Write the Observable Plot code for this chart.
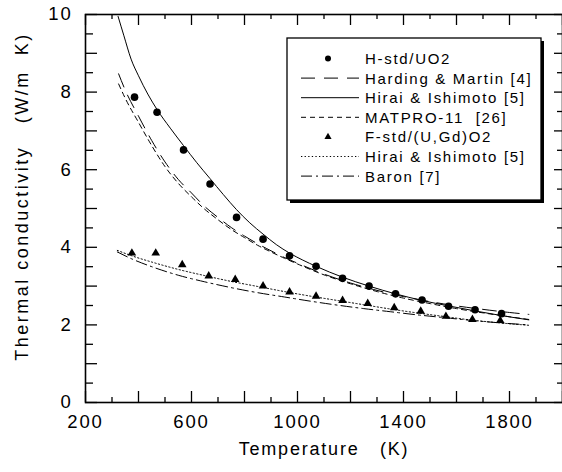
<!DOCTYPE html>
<html><head><meta charset="utf-8">
<script src="https://cdn.jsdelivr.net/npm/d3@7"></script>
<script src="https://cdn.jsdelivr.net/npm/@observablehq/plot@0.6"></script>
<style>
body{margin:0;background:#fff;}
#chart{width:562px;height:472px;}
#chart svg text{letter-spacing:1.8px;}
#chart svg .ytitle text{letter-spacing:2.5px;}
#chart svg .legend text{letter-spacing:1.7px;}
</style></head><body><div id="chart"></div>
<script>
// ---- data ----
const hStdT = [385, 470, 570, 670, 770, 870, 970, 1070, 1170, 1270, 1370, 1470, 1570, 1670, 1770];
const hStdK = [7.87, 7.48, 6.51, 5.63, 4.77, 4.21, 3.78, 3.51, 3.20, 3.00, 2.80, 2.64, 2.48, 2.39, 2.29];
const fStdT = [375, 465, 565, 665, 765, 870, 970, 1070, 1170, 1265, 1365, 1465, 1560, 1660, 1765];
const fStdK = [3.85, 3.85, 3.55, 3.26, 3.17, 3.00, 2.85, 2.74, 2.63, 2.55, 2.44, 2.35, 2.22, 2.14, 2.11];

const hiraiUO2T = [323, 345, 372, 400, 435, 470, 520, 570, 620, 670, 720, 770, 820, 870, 920, 970, 1020, 1070, 1170, 1270, 1370, 1470, 1570, 1670, 1770, 1873];
const hiraiUO2K = [9.95, 9.45, 8.85, 8.42, 7.95, 7.55, 7.07, 6.62, 6.18, 5.77, 5.36, 4.97, 4.63, 4.34, 4.07, 3.85, 3.67, 3.51, 3.23, 3.00, 2.80, 2.63, 2.49, 2.36, 2.24, 2.13];
const hardingT = [325, 350, 400, 450, 500, 550, 600, 650, 700, 750, 800, 850, 900, 950, 1000, 1100, 1200, 1300, 1400, 1500, 1600, 1700, 1800, 1873];
const hardingK = [8.47, 8.05, 7.38, 6.75, 6.20, 5.75, 5.40, 5.05, 4.77, 4.51, 4.29, 4.09, 3.91, 3.74, 3.59, 3.31, 3.08, 2.89, 2.73, 2.60, 2.49, 2.40, 2.32, 2.27];
const matproT = [325, 350, 400, 450, 500, 550, 600, 650, 700, 750, 800, 850, 900, 950, 1000, 1100, 1200, 1300, 1400, 1500, 1600, 1700, 1800, 1873];
const matproK = [8.21, 7.84, 7.22, 6.62, 6.08, 5.65, 5.30, 4.98, 4.71, 4.46, 4.25, 4.05, 3.88, 3.72, 3.57, 3.29, 3.06, 2.86, 2.69, 2.55, 2.42, 2.31, 2.21, 2.14];
const hiraiGdT = [320, 375, 450, 550, 650, 750, 850, 950, 1050, 1150, 1250, 1350, 1450, 1550, 1650, 1750, 1873];
const hiraiGdK = [3.92, 3.78, 3.62, 3.43, 3.27, 3.12, 2.99, 2.86, 2.74, 2.63, 2.52, 2.41, 2.31, 2.22, 2.13, 2.06, 1.99];
const baronT = [320, 375, 450, 550, 650, 750, 850, 950, 1050, 1150, 1250, 1350, 1450, 1550, 1650, 1750, 1873];
const baronK = [3.88, 3.70, 3.50, 3.28, 3.11, 2.96, 2.83, 2.72, 2.61, 2.51, 2.42, 2.34, 2.26, 2.19, 2.12, 2.06, 2.00];

const xTickLabels = [200, 600, 1000, 1400, 1800];
const xMajorTicks = [200, 400, 600, 800, 1000, 1200, 1400, 1600, 1800, 2000];
const xMinorTicks = [300, 500, 700, 900, 1100, 1300, 1500, 1700, 1900];
const yTickLabels = [0, 2, 4, 6, 8, 10];
const yMajorTicks = [0, 1, 2, 3, 4, 5, 6, 7, 8, 9, 10];
const yMinorTicks = [0.5, 1.5, 2.5, 3.5, 4.5, 5.5, 6.5, 7.5, 8.5, 9.5];

const xTitle = "Temperature\u00a0\u00a0\u00a0(K)";
const yTitle = "Thermal conductivity\u00a0\u00a0\u00a0(W/m\u00a0\u00a0K)";

const legendItems = [
  {label: "H-std/UO2", kind: "dot"},
  {label: "Harding & Martin [4]", kind: "line", dash: "14,9"},
  {label: "Hirai & Ishimoto [5]", kind: "line", dash: null},
  {label: "MATPRO-11\u00a0\u00a0[26]", kind: "line", dash: "5,4"},
  {label: "F-std/(U,Gd)O2", kind: "tri"},
  {label: "Hirai & Ishimoto [5]", kind: "line", dash: "1.3,2.3"},
  {label: "Baron [7]", kind: "line", dash: "11,4,2,4"}
];

// ---- build ----
const zip = (T, K) => T.map((t, i) => ({T: t, k: K[i]}));
const W = 562, H = 472, mL = 85, mR = 0, mT = 14, mB = 70;
const innerW = W - mL - mR, innerH = H - mT - mB;
const font = "'Liberation Sans', Arial, Helvetica, sans-serif";

const lineOpts = (dash) => ({x: "T", y: "k", curve: "monotone-x", stroke: "black", strokeWidth: 1, strokeDasharray: dash ?? undefined});

const plot = Plot.plot({
  width: W, height: H,
  marginLeft: mL, marginRight: mR, marginTop: mT, marginBottom: mB,
  x: {domain: [200, 2000]},
  y: {domain: [0, 10]},
  style: {fontFamily: font, background: "#fff", color: "#000"},
  marks: [
    Plot.axisX(xTickLabels, {tickSize: 0, tickPadding: 12, fontSize: 18.5, tickFormat: d3.format("d"), label: null}),
    Plot.axisY(yTickLabels, {tickSize: 0, tickPadding: 13, fontSize: 18.5, tickFormat: d3.format("d"), label: null}),
    // inward ticks: bottom / top
    Plot.tickX(xMajorTicks, {x: d => d, insetTop: innerH - 11, strokeWidth: 1.3}),
    Plot.tickX(xMinorTicks, {x: d => d, insetTop: innerH - 5, strokeWidth: 1.3}),
    Plot.tickX(xMajorTicks, {x: d => d, insetBottom: innerH - 11, strokeWidth: 1.3}),
    Plot.tickX(xMinorTicks, {x: d => d, insetBottom: innerH - 5, strokeWidth: 1.3}),
    // inward ticks: left / right
    Plot.tickY(yMajorTicks, {y: d => d, insetRight: innerW - 12, strokeWidth: 1.3}),
    Plot.tickY(yMinorTicks, {y: d => d, insetRight: innerW - 8, strokeWidth: 1.3}),
    Plot.tickY(yMajorTicks, {y: d => d, insetLeft: innerW - 8, strokeWidth: 1.3}),
    Plot.tickY(yMinorTicks, {y: d => d, insetLeft: innerW - 5, strokeWidth: 1.3}),
    Plot.frame({stroke: "black", strokeWidth: 1.6}),
    // curves
    Plot.line(zip(hardingT, hardingK), lineOpts("14,9")),
    Plot.line(zip(hiraiUO2T, hiraiUO2K), lineOpts(null)),
    Plot.line(zip(matproT, matproK), lineOpts("5,4")),
    Plot.line(zip(hiraiGdT, hiraiGdK), lineOpts("1.3,2.3")),
    Plot.line(zip(baronT, baronK), lineOpts("11,4,2,4")),
    // data points
    Plot.dot(zip(hStdT, hStdK), {x: "T", y: "k", r: 3.8, fill: "black", stroke: "none"}),
    Plot.dot(zip(fStdT, fStdK), {x: "T", y: "k", symbol: "triangle", r: 3.2, fill: "black", stroke: "none"}),
    // titles
    Plot.text([xTitle], {frameAnchor: "bottom", dy: 47, fontSize: 18, lineAnchor: "middle"}),
    Plot.text([yTitle], {frameAnchor: "left", dx: -63, dy: -12, rotate: -90, fontSize: 18, textAnchor: "middle", lineAnchor: "middle", className: "ytitle"})
  ]
});
document.getElementById("chart").appendChild(plot);

// ---- legend box (inside the frame, upper right) ----
const svg = d3.select(plot);
const lg = svg.append("g").attr("class", "legend").attr("font-family", font).attr("font-size", 15).attr("text-anchor", "start");
const bx = 287, by = 38, bw = 254, bh = 162;
lg.append("rect").attr("x", bx + 3).attr("y", by + 3).attr("width", bw).attr("height", bh).attr("fill", "black");
lg.append("rect").attr("x", bx).attr("y", by).attr("width", bw).attr("height", bh).attr("fill", "white").attr("stroke", "black").attr("stroke-width", 1.3);
legendItems.forEach((it, i) => {
  const cy = by + 20.5 + i * 19.6;
  if (it.kind === "dot") {
    lg.append("circle").attr("cx", 328).attr("cy", cy).attr("r", 3).attr("fill", "black");
  } else if (it.kind === "tri") {
    lg.append("path").attr("d", d3.symbol(d3.symbolTriangle, 22)()).attr("transform", `translate(328,${cy})`).attr("fill", "black");
  } else {
    const l = lg.append("line").attr("x1", 301).attr("x2", 359).attr("y1", cy).attr("y2", cy).attr("stroke", "black").attr("stroke-width", 1);
    if (it.dash) l.attr("stroke-dasharray", it.dash);
  }
  lg.append("text").attr("x", 365).attr("y", cy).attr("dy", "0.36em").attr("text-anchor", "start").text(it.label);
});
</script>
</body></html>
